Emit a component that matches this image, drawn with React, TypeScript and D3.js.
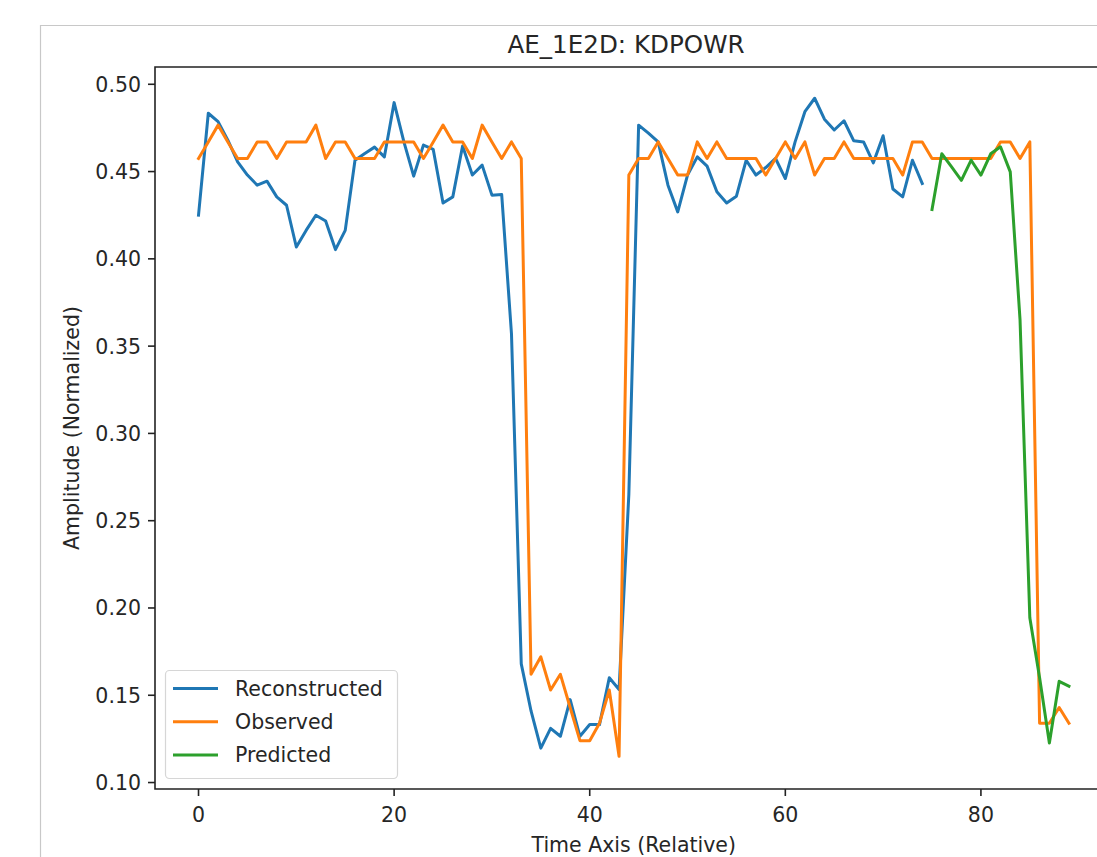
import React, { useEffect, useRef } from "react";
import * as d3 from "d3";

// values
const reconstructed = [
  0.425, 0.4834, 0.4786, 0.468, 0.4556, 0.448, 0.4422, 0.4445, 0.4355, 0.4307,
  0.4068, 0.4163, 0.425, 0.4217, 0.4053, 0.4163, 0.4565, 0.4604, 0.464, 0.4584,
  0.4895, 0.467, 0.4474, 0.4652, 0.4627, 0.432, 0.4355, 0.4646, 0.448, 0.4537,
  0.4365, 0.4368, 0.357, 0.168, 0.141, 0.1197, 0.131, 0.1265, 0.1475, 0.1265,
  0.1332, 0.1332, 0.16, 0.1533, 0.265, 0.4766, 0.472, 0.467, 0.4422, 0.4269,
  0.448, 0.4584, 0.4531, 0.4384, 0.432, 0.4359, 0.4565, 0.448, 0.4523, 0.4575,
  0.446, 0.467, 0.4843, 0.492, 0.48, 0.4738, 0.4791, 0.4676, 0.467, 0.455,
  0.4705, 0.44, 0.4355, 0.4565, 0.4432,
];

const observed = [
  0.4575, 0.467, 0.4766, 0.467, 0.4575, 0.4575, 0.467, 0.467, 0.4575, 0.467,
  0.467, 0.467, 0.4766, 0.4575, 0.467, 0.467, 0.4575, 0.4575, 0.4575, 0.467,
  0.467, 0.467, 0.467, 0.4575, 0.467, 0.4766, 0.467, 0.467, 0.4575, 0.4766,
  0.467, 0.4575, 0.467, 0.4575, 0.162, 0.172, 0.153, 0.162, 0.143, 0.124,
  0.124, 0.134, 0.153, 0.115, 0.448, 0.4575, 0.4575, 0.467, 0.4575, 0.448,
  0.448, 0.467, 0.4575, 0.467, 0.4575, 0.4575, 0.4575, 0.4575, 0.448, 0.4575,
  0.467, 0.4575, 0.467, 0.448, 0.4575, 0.4575, 0.467, 0.4575, 0.4575, 0.4575,
  0.4575, 0.4575, 0.448, 0.467, 0.467, 0.4575, 0.4575, 0.4575, 0.4575, 0.4575,
  0.4575, 0.4575, 0.467, 0.467, 0.4575, 0.467, 0.134, 0.134, 0.143, 0.134,
];

const predictedStart = 75;
const predicted = [
  0.4282, 0.4602, 0.4527, 0.445, 0.4565, 0.448, 0.4602, 0.4642, 0.4498, 0.365,
  0.1944, 0.16, 0.1226, 0.158, 0.1552,
];

const yTicks = [0.1, 0.15, 0.2, 0.25, 0.3, 0.35, 0.4, 0.45, 0.5];
const xTicks = [0, 20, 40, 60, 80];

const seriesNames = ["Reconstructed", "Observed", "Predicted"];
const colors = ["#1f77b4", "#ff7f0e", "#2ca02c"];

const App = () => {
  const ref = useRef<SVGSVGElement>(null);

  useEffect(() => {
    const width = 1097;
    const height = 857;
    const left = 155;
    const top = 67;
    const bottom = 789;
    const font = "DejaVu Sans, sans-serif";

    const svg = d3.select(ref.current);
    svg.selectAll("*").remove();
    svg.attr("width", width).attr("height", height);

    // notebook output frame
    svg
      .append("path")
      .attr("d", `M40.5,${height} V25.5 H${width}`)
      .attr("fill", "none")
      .attr("stroke", "#c8c8c8")
      .attr("stroke-width", 1.2);

    const x = d3.scaleLinear().domain([-4.45, 93.45]).range([left, left + 97.9 * 9.78]);
    const y = d3.scaleLinear().domain([0.0963, 0.5099]).range([bottom, top]);

    const g = svg.append("g");

    const line = d3
      .line<[number, number]>()
      .x((d) => x(d[0]))
      .y((d) => y(d[1]));

    const data: [number, number][][] = [
      reconstructed.map((v, i) => [i, v]),
      observed.map((v, i) => [i, v]),
      predicted.map((v, i) => [i + predictedStart, v]),
    ];

    data.forEach((pts, i) => {
      g.append("path")
        .datum(pts)
        .attr("d", line)
        .attr("fill", "none")
        .attr("stroke", colors[i])
        .attr("stroke-width", 3)
        .attr("stroke-linejoin", "round")
        .attr("stroke-linecap", "square");
    });

    // spines
    svg
      .append("path")
      .attr("d", `M${width},${top} H${left} V${bottom} H${width}`)
      .attr("fill", "none")
      .attr("stroke", "#222")
      .attr("stroke-width", 1.6);

    // y axis
    yTicks.forEach((t) => {
      svg
        .append("line")
        .attr("x1", left - 7)
        .attr("x2", left)
        .attr("y1", y(t))
        .attr("y2", y(t))
        .attr("stroke", "#222")
        .attr("stroke-width", 1.6);
      svg
        .append("text")
        .attr("x", left - 14)
        .attr("y", y(t))
        .attr("dy", "0.36em")
        .attr("text-anchor", "end")
        .attr("font-family", font)
        .attr("font-size", 20.5)
        .attr("fill", "#262626")
        .text(d3.format(".2f")(t));
    });

    // x axis
    xTicks.forEach((t) => {
      svg
        .append("line")
        .attr("x1", x(t))
        .attr("x2", x(t))
        .attr("y1", bottom)
        .attr("y2", bottom + 7)
        .attr("stroke", "#222")
        .attr("stroke-width", 1.6);
      svg
        .append("text")
        .attr("x", x(t))
        .attr("y", 822)
        .attr("text-anchor", "middle")
        .attr("font-family", font)
        .attr("font-size", 20.5)
        .attr("fill", "#262626")
        .text(t);
    });

    // labels
    svg
      .append("text")
      .attr("x", x(44.5))
      .attr("y", 852)
      .attr("text-anchor", "middle")
      .attr("font-family", font)
      .attr("font-size", 20.5)
      .attr("fill", "#262626")
      .text("Time Axis (Relative)");

    svg
      .append("text")
      .attr("transform", `translate(79,${(top + bottom) / 2}) rotate(-90)`)
      .attr("text-anchor", "middle")
      .attr("font-family", font)
      .attr("font-size", 20.5)
      .attr("fill", "#262626")
      .text("Amplitude (Normalized)");

    svg
      .append("text")
      .attr("x", 626)
      .attr("y", 53)
      .attr("text-anchor", "middle")
      .attr("font-family", font)
      .attr("font-size", 24.6)
      .attr("fill", "#262626")
      .text("AE_1E2D: KDPOWR");

    // legend
    const lg = svg.append("g");
    lg.append("rect")
      .attr("x", 165.5)
      .attr("y", 670.5)
      .attr("width", 232)
      .attr("height", 108)
      .attr("rx", 4)
      .attr("fill", "#fff")
      .attr("fill-opacity", 0.8)
      .attr("stroke", "#d6d6d6")
      .attr("stroke-width", 1.2);

    seriesNames.forEach((name, i) => {
      const ly = 688.5 + i * 33.3;
      lg.append("line")
        .attr("x1", 173)
        .attr("x2", 218)
        .attr("y1", ly)
        .attr("y2", ly)
        .attr("stroke", colors[i])
        .attr("stroke-width", 3);
      lg.append("text")
        .attr("x", 235)
        .attr("y", ly)
        .attr("dy", "0.36em")
        .attr("font-family", font)
        .attr("font-size", 20.5)
        .attr("fill", "#262626")
        .text(name);
    });
  }, []);

  return (
    <div style={{ position: "absolute", left: 0, top: 0 }}>
      <svg ref={ref}></svg>
    </div>
  );
};

export default App;
